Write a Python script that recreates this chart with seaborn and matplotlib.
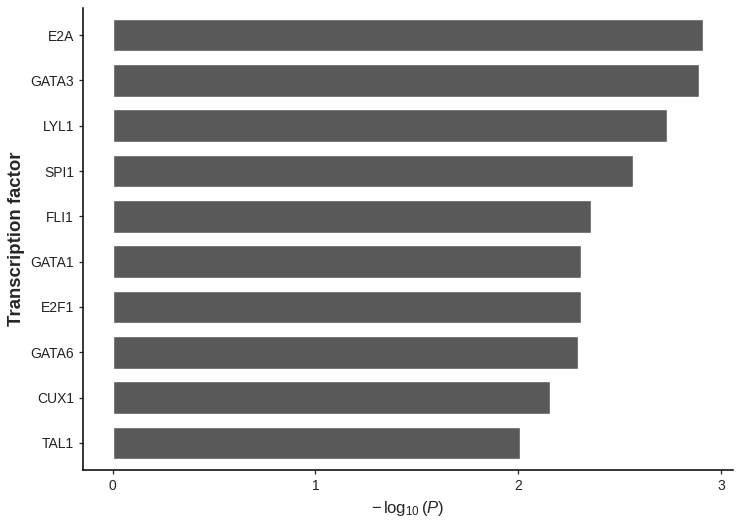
import matplotlib
matplotlib.use("Agg")
import matplotlib.pyplot as plt
import seaborn as sns
import pandas as pd

# Transcription factor enrichment values
factors = ["E2A", "GATA3", "LYL1", "SPI1", "FLI1", "GATA1", "E2F1", "GATA6", "CUX1", "TAL1"]
neglogp = [2.914, 2.891, 2.736, 2.565, 2.359, 2.311, 2.309, 2.296, 2.159, 2.011]
xticks = [0, 1, 2, 3]

df = pd.DataFrame({"factor": factors, "value": neglogp})

sns.set_style("ticks")
plt.rcParams["font.family"] = ["Liberation Sans", "DejaVu Sans"]
plt.rcParams["mathtext.fontset"] = "custom"
plt.rcParams["mathtext.rm"] = "Liberation Sans"
plt.rcParams["mathtext.it"] = "Liberation Sans:italic"

fig = plt.figure(figsize=(7.42, 5.24), dpi=100)
ax = fig.add_axes([83 / 742, 54 / 524, 650 / 742, 462 / 524])

sns.barplot(data=df, x="value", y="factor", order=factors, color="#595959",
            saturation=1, width=0.72, ax=ax)

ax.set_xlim(-0.146, 3.06)
ax.set_ylim(len(factors) - 0.4, -0.6)
ax.set_xticks(xticks)
ax.set_xticklabels([str(t) for t in xticks], fontsize=10, color="#222222")
ax.tick_params(axis="y", labelsize=10, labelcolor="#222222", length=3, width=0.9)
ax.tick_params(axis="x", length=3, width=0.9)

ax.set_xlabel(r"$-\,\log_{10}(P)$", fontsize=12)
ax.set_ylabel("Transcription factor", fontsize=13.4, fontweight="bold")

for side in ["top", "right"]:
    ax.spines[side].set_visible(False)
for side in ["left", "bottom"]:
    ax.spines[side].set_linewidth(1.1)
    ax.spines[side].set_color("black")

fig.savefig("out.png", dpi=100)
